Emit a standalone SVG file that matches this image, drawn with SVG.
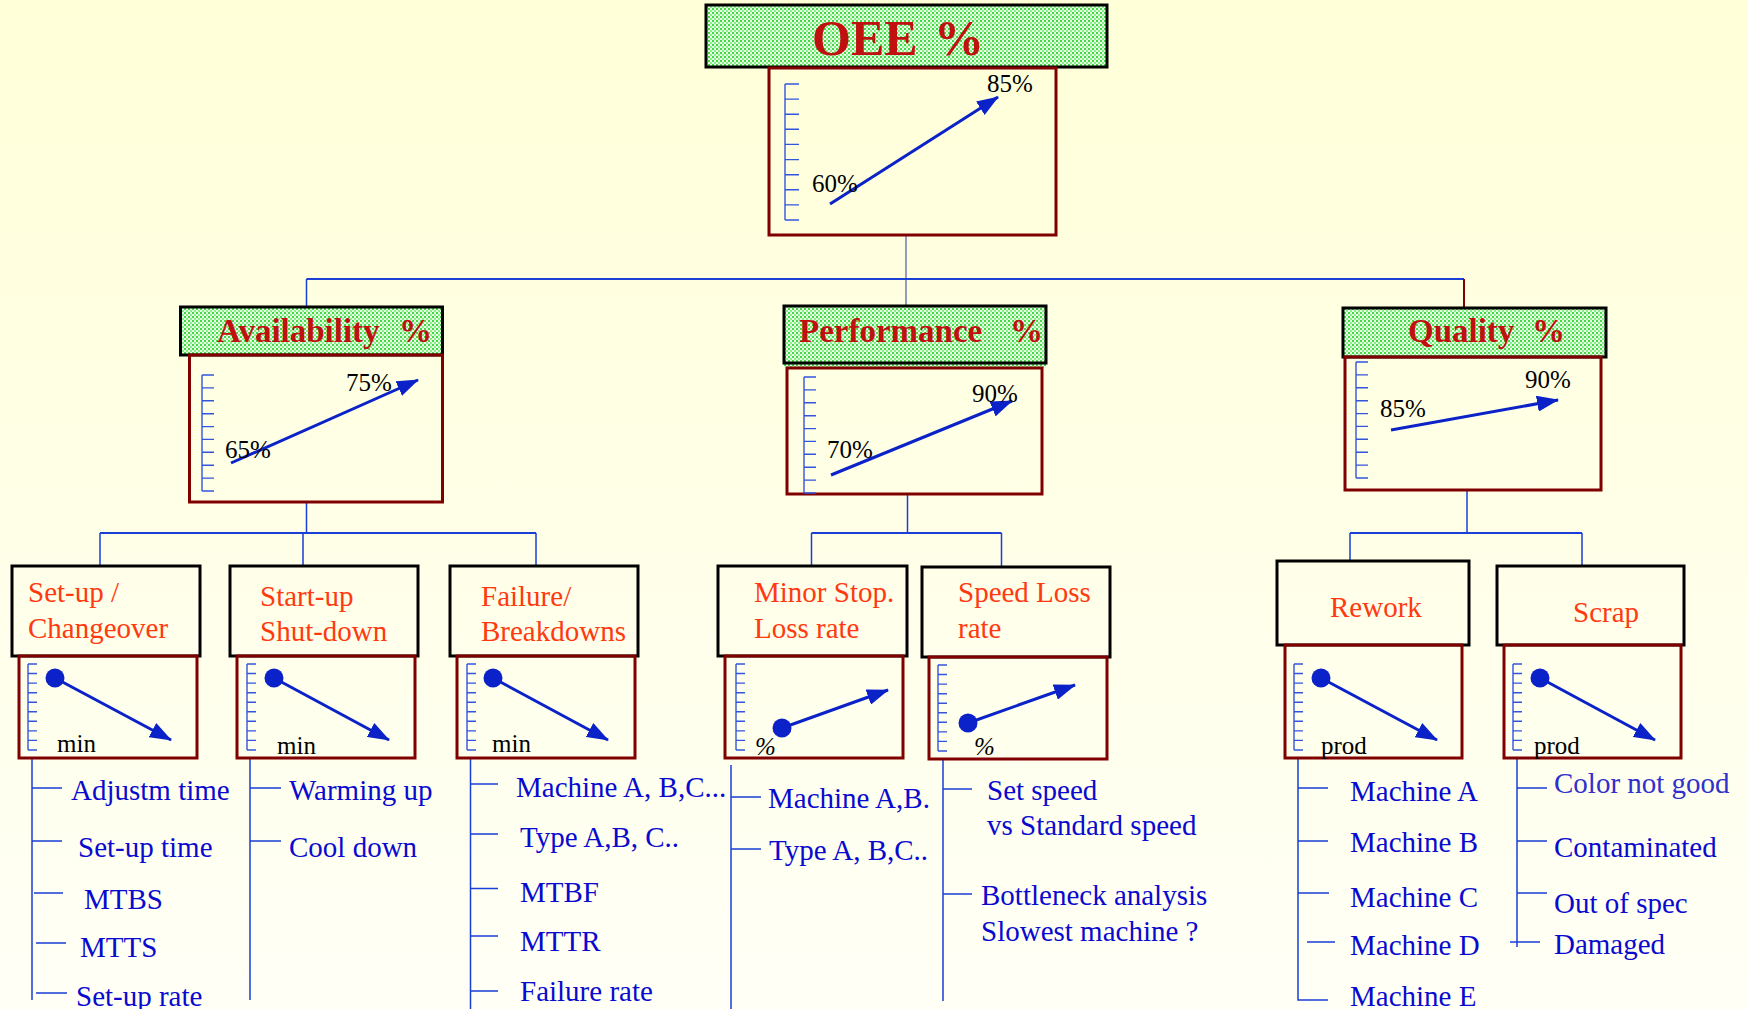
<svg xmlns="http://www.w3.org/2000/svg" xmlns:xlink="http://www.w3.org/1999/xlink" width="1748" height="1009" viewBox="0 0 1748 1009">
  <defs>
    <linearGradient id="bg" x1="0" y1="0" x2="0" y2="1">
      <stop offset="0" stop-color="#FFFFD8"/>
      <stop offset="1" stop-color="#FFFFF6"/>
    </linearGradient>
    <!-- dithered green fill of the KPI headers -->
    <pattern id="dots" width="4" height="4" patternUnits="userSpaceOnUse">
      <rect width="4" height="4" fill="#E4FFE4"/>
      <rect width="2" height="2" fill="#44D844"/>
      <rect x="2" y="2" width="2" height="2" fill="#88EE88"/>
    </pattern>
    <marker id="ah" markerUnits="userSpaceOnUse" markerWidth="22" markerHeight="16" refX="21" refY="8" orient="auto">
      <path d="M0,0 L22,8 L0,16 z" fill="#0A22C8"/>
    </marker>
    <!-- tick scales -->
    <path id="scaleL" d="M0 0V136 M0 0h14 M0 15.1h14 M0 30.2h14 M0 45.3h14 M0 60.4h14 M0 75.6h14 M0 90.7h14 M0 105.8h14 M0 120.9h14 M0 136h14"/>
    <path id="scaleM" d="M0 0V116 M0 0h12 M0 12.9h12 M0 25.8h12 M0 38.7h12 M0 51.6h12 M0 64.4h12 M0 77.3h12 M0 90.2h12 M0 103.1h12 M0 116h12"/>
    <path id="scaleS" d="M0 0V86 M0 0h9 M0 9.56h9 M0 19.1h9 M0 28.7h9 M0 38.2h9 M0 47.8h9 M0 57.3h9 M0 66.9h9 M0 76.4h9 M0 86h9"/>
  </defs>
  <style>
    .kpi { fill: url(#dots); stroke: #000; stroke-width: 3; }
    .chart { fill: none; stroke: #800000; stroke-width: 3; }
    .box { fill: none; stroke: #000; stroke-width: 3; }
    .scale { fill: none; stroke: #3355DD; stroke-width: 1.4; }
    .trend { fill: none; stroke: #0A22C8; stroke-width: 3; marker-end: url(#ah); }
    .dot { fill: #0A22C8; }
    .kpiT { font-family: "Liberation Serif", serif; font-weight: bold; fill: #C01010; }
    .val { font-family: "Liberation Serif", serif; font-size: 25px; fill: #000; }
    .unit { font-family: "Liberation Serif", serif; font-size: 25px; fill: #000; }
    .pct { font-family: "Liberation Serif", serif; font-size: 25px; font-style: italic; fill: #000; }
    .lossT { font-family: "Liberation Serif", serif; font-size: 29px; fill: #FF3A10; }
    .item { font-family: "Liberation Serif", serif; font-size: 29px; fill: #0A0ACF; }
    .lnk { fill: none; stroke: #1A3FD6; stroke-width: 1.5; }
    .lnkB { fill: none; stroke: #1A3FD6; stroke-width: 2; }
  </style>

  <rect width="1748" height="1009" fill="url(#bg)"/>

  <!-- tree connectors and item brackets -->
  <g id="connectors">
    <line x1="906" y1="235" x2="906" y2="306" stroke="#4A5AA8" stroke-width="1.2"/>
    <line class="lnkB" x1="306.5" y1="279" x2="1464" y2="279"/>
    <line class="lnk" x1="306.5" y1="279" x2="306.5" y2="307"/>
    <line x1="1464" y1="279" x2="1464" y2="308" stroke="#800000" stroke-width="2"/>

    <line class="lnk" x1="306.5" y1="502" x2="306.5" y2="533"/>
    <line class="lnkB" x1="100" y1="533" x2="536" y2="533"/>
    <path class="lnk" d="M100 533V566 M303 533V566 M536 533V566"/>

    <line class="lnk" x1="907.5" y1="494" x2="907.5" y2="533"/>
    <line class="lnkB" x1="811.5" y1="533" x2="1001.5" y2="533"/>
    <path class="lnk" d="M811.5 533V566 M1001.5 533V567"/>

    <line class="lnk" x1="1467" y1="490" x2="1467" y2="533"/>
    <line class="lnkB" x1="1350" y1="533" x2="1582" y2="533"/>
    <path class="lnk" d="M1350 533V561 M1582 533V566"/>

    <path class="lnk" d="M32 758V1000 M32 788H62 M32 841H62 M34 893H63 M36 943H66 M36 993H67"/>
    <path class="lnk" d="M250 758V1000 M250 788H281 M250 841H281"/>
    <path class="lnk" d="M470.5 758V1009 M470.5 784H498 M470.5 834H498 M470.5 888.5H498 M470.5 936H498 M470.5 991H498"/>
    <path class="lnk" d="M731 765V1009 M731 797H761 M731 849H761"/>
    <path class="lnk" d="M943 759V1001 M943 789H972 M943 894H972"/>
    <path class="lnk" d="M1298 758V1000H1328 M1298 788H1328 M1298 841H1328 M1298 893H1329 M1307 942H1335"/>
    <path class="lnk" d="M1517 758V947 M1517 788H1547 M1517 841H1547 M1517 893H1547 M1510 942H1540"/>
  </g>

  <!-- top KPI -->
  <g id="oee">
    <rect class="kpi" x="706" y="5" width="401" height="62"/>
    <text class="kpiT" font-size="50" x="812" y="55">OEE<tspan x="934">%</tspan></text>
    <rect class="chart" x="769" y="68" width="287" height="167"/>
    <use href="#scaleL" class="scale" x="785" y="84"/>
    <line class="trend" x1="830" y1="204" x2="998" y2="97"/>
    <text class="val" x="812" y="192">60%</text>
    <text class="val" x="987" y="92">85%</text>
  </g>

  <g id="availability">
    <rect class="kpi" x="180.5" y="307" width="262" height="48"/>
    <text class="kpiT" font-size="33" x="217" y="342">Availability<tspan x="399">%</tspan></text>
    <rect class="chart" x="189.5" y="355" width="253" height="147"/>
    <use href="#scaleM" class="scale" x="202" y="375"/>
    <line class="trend" x1="231" y1="463" x2="418" y2="380"/>
    <text class="val" x="225" y="458">65%</text>
    <text class="val" x="346" y="391">75%</text>
  </g>

  <g id="performance">
    <rect x="784" y="306" width="262" height="62" fill="url(#dots)"/>
    <rect class="kpi" x="784" y="306" width="262" height="57" fill="none"/>
    <text class="kpiT" font-size="33" x="799" y="342">Performance<tspan x="1010">%</tspan></text>
    <rect class="chart" x="787" y="368" width="255" height="126"/>
    <use href="#scaleM" class="scale" x="804" y="377"/>
    <line class="trend" x1="831" y1="475" x2="1012" y2="401"/>
    <text class="val" x="827" y="458">70%</text>
    <text class="val" x="972" y="402">90%</text>
  </g>

  <g id="quality">
    <rect class="kpi" x="1343" y="308" width="263" height="49"/>
    <text class="kpiT" font-size="33" x="1408" y="342">Quality<tspan x="1532">%</tspan></text>
    <rect class="chart" x="1345" y="357" width="256" height="133"/>
    <use href="#scaleM" class="scale" x="1356" y="362"/>
    <line class="trend" x1="1391" y1="430" x2="1558" y2="400"/>
    <text class="val" x="1380" y="417">85%</text>
    <text class="val" x="1525" y="388">90%</text>
  </g>

  <!-- loss categories -->
  <g id="setup">
    <rect class="box" x="12" y="566" width="188" height="90"/>
    <text class="lossT" x="28" y="602">Set-up /</text>
    <text class="lossT" x="28" y="638">Changeover</text>
    <rect class="chart" x="19" y="656" width="178" height="102"/>
    <use href="#scaleS" class="scale" x="28" y="664"/>
    <circle class="dot" cx="55" cy="678" r="9.5"/>
    <line class="trend" x1="55" y1="678" x2="171" y2="740"/>
    <text class="unit" x="57" y="752">min</text>
  </g>

  <g id="startup">
    <rect class="box" x="230" y="566" width="188" height="90"/>
    <text class="lossT" x="260" y="606">Start-up</text>
    <text class="lossT" x="260" y="641">Shut-down</text>
    <rect class="chart" x="237" y="656" width="178" height="102"/>
    <use href="#scaleS" class="scale" x="247" y="664"/>
    <circle class="dot" cx="274" cy="678" r="9.5"/>
    <line class="trend" x1="274" y1="678" x2="389" y2="740"/>
    <text class="unit" x="277" y="754">min</text>
  </g>

  <g id="failure">
    <rect class="box" x="450" y="566" width="188" height="90"/>
    <text class="lossT" x="481" y="606">Failure/</text>
    <text class="lossT" x="481" y="641">Breakdowns</text>
    <rect class="chart" x="457" y="656" width="178" height="102"/>
    <use href="#scaleS" class="scale" x="467" y="664"/>
    <circle class="dot" cx="493" cy="678" r="9.5"/>
    <line class="trend" x1="493" y1="678" x2="608" y2="740"/>
    <text class="unit" x="492" y="752">min</text>
  </g>

  <g id="minorstop">
    <rect class="box" x="718" y="566" width="189" height="90"/>
    <text class="lossT" x="754" y="602">Minor Stop.</text>
    <text class="lossT" x="754" y="638">Loss rate</text>
    <rect class="chart" x="725" y="656" width="178" height="102"/>
    <use href="#scaleS" class="scale" x="736" y="664"/>
    <circle class="dot" cx="782" cy="728" r="9.5"/>
    <line class="trend" x1="782" y1="728" x2="888" y2="690"/>
    <text class="pct" x="755" y="755">%</text>
  </g>

  <g id="speedloss">
    <rect class="box" x="922" y="567" width="188" height="90"/>
    <text class="lossT" x="958" y="602">Speed Loss</text>
    <text class="lossT" x="958" y="638">rate</text>
    <rect class="chart" x="929" y="657" width="178" height="102"/>
    <use href="#scaleS" class="scale" x="938" y="665"/>
    <circle class="dot" cx="968" cy="723" r="9.5"/>
    <line class="trend" x1="968" y1="723" x2="1075" y2="685"/>
    <text class="pct" x="974" y="755">%</text>
  </g>

  <g id="rework">
    <rect class="box" x="1277" y="561" width="192" height="84"/>
    <text class="lossT" x="1330" y="617">Rework</text>
    <rect class="chart" x="1285" y="645" width="177" height="113"/>
    <use href="#scaleS" class="scale" x="1294" y="664"/>
    <circle class="dot" cx="1321" cy="678" r="9.5"/>
    <line class="trend" x1="1321" y1="678" x2="1437" y2="740"/>
    <text class="unit" x="1321" y="754">prod</text>
  </g>

  <g id="scrap">
    <rect class="box" x="1497" y="566" width="187" height="79"/>
    <text class="lossT" x="1573" y="622">Scrap</text>
    <rect class="chart" x="1504" y="645" width="177" height="113"/>
    <use href="#scaleS" class="scale" x="1513" y="664"/>
    <circle class="dot" cx="1540" cy="678" r="9.5"/>
    <line class="trend" x1="1540" y1="678" x2="1655" y2="740"/>
    <text class="unit" x="1534" y="754">prod</text>
  </g>

  <!-- detail items under each loss -->
  <g id="setup-items" class="item">
    <text x="71" y="800">Adjustm time</text>
    <text x="78" y="857">Set-up time</text>
    <text x="84" y="909">MTBS</text>
    <text x="80" y="957">MTTS</text>
    <text x="76" y="1006">Set-up rate</text>
  </g>
  <g id="startup-items" class="item">
    <text x="289" y="800">Warming up</text>
    <text x="289" y="857">Cool down</text>
  </g>
  <g id="failure-items" class="item">
    <text x="516" y="797">Machine A, B,C...</text>
    <text x="520" y="847">Type A,B, C..</text>
    <text x="520" y="902">MTBF</text>
    <text x="520" y="951">MTTR</text>
    <text x="520" y="1001">Failure rate</text>
  </g>
  <g id="minorstop-items" class="item">
    <text x="768" y="808">Machine A,B.</text>
    <text x="769" y="860">Type A, B,C..</text>
  </g>
  <g id="speedloss-items" class="item">
    <text x="987" y="800">Set speed</text>
    <text x="987" y="835">vs Standard speed</text>
    <text x="981" y="905">Bottleneck analysis</text>
    <text x="981" y="941">Slowest machine ?</text>
  </g>
  <g id="rework-items" class="item">
    <text x="1350" y="801">Machine A</text>
    <text x="1350" y="852">Machine B</text>
    <text x="1350" y="907">Machine C</text>
    <text x="1350" y="955">Machine D</text>
    <text x="1350" y="1006">Machine E</text>
  </g>
  <g id="scrap-items" class="item">
    <text x="1554" y="793" fill="#3030CC">Color not good</text>
    <text x="1554" y="857">Contaminated</text>
    <text x="1554" y="913">Out of spec</text>
    <text x="1554" y="954">Damaged</text>
  </g>
</svg>
